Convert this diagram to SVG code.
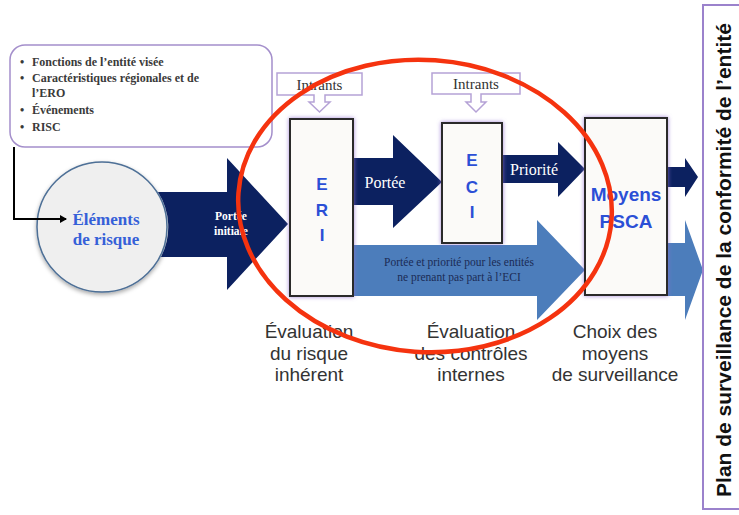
<svg xmlns="http://www.w3.org/2000/svg" width="739" height="515" viewBox="0 0 739 515">
<defs>
<filter id="glow" x="-20%" y="-20%" width="140%" height="140%">
<feDropShadow dx="0" dy="0" stdDeviation="2" flood-color="#8e6cd0" flood-opacity="0.8"/>
</filter>
<filter id="shadow" x="-20%" y="-20%" width="140%" height="140%">
<feDropShadow dx="0" dy="2" stdDeviation="2" flood-color="#000" flood-opacity="0.35"/>
</filter>
<marker id="arr" markerWidth="8" markerHeight="8" refX="6" refY="4" orient="auto" markerUnits="userSpaceOnUse">
<path d="M0,0 L7,4 L0,8 Z" fill="#000"/>
</marker>
<style>
.navy{fill:#0c2160}
.lblue{fill:#4c7dbb}
.box{fill:#fbfaf8;stroke:#2a2a2a;stroke-width:2}
.callout{fill:#fff;stroke:#b5a2d6;stroke-width:1.5}
.serif{font-family:"Liberation Serif","DejaVu Serif",serif}
.sans{font-family:"Liberation Sans",Arial,sans-serif}
.bul{font-family:"Liberation Serif",serif;font-size:12px;font-weight:bold;fill:#3a3a3a}
.key{font-family:"Liberation Sans",Arial,sans-serif;font-weight:bold;fill:#2b4fd6;text-anchor:middle}
.lab{font-family:"Liberation Sans",Arial,sans-serif;font-size:19px;fill:#333;text-anchor:middle}
.intr{font-family:"Liberation Serif",serif;font-size:15px;fill:#333;text-anchor:middle}
</style>
</defs>
<rect width="739" height="515" fill="#fff"/>

<g id="info-box">
<rect x="10" y="45" width="262" height="102" rx="15" fill="#fff" stroke="#a48fcb" stroke-width="1.5"/>
<g class="bul">
<text x="20" y="66">•</text><text x="32" y="66">Fonctions de l’entité visée</text>
<text x="20" y="82">•</text><text x="32" y="82">Caractéristiques régionales et de</text>
<text x="32" y="97">l’ERO</text>
<text x="20" y="114">•</text><text x="32" y="114">Événements</text>
<text x="20" y="131">•</text><text x="32" y="131">RISC</text>
</g>
</g>

<g id="elements-risque">
<circle cx="102" cy="227" r="65" fill="#efefef" stroke="#4d6f96" stroke-width="1.5" filter="url(#shadow)"/>
<g class="serif" font-size="17" font-weight="bold" fill="#3560d8" text-anchor="middle">
<text x="106" y="225">Éléments</text>
<text x="106" y="245">de risque</text>
</g>
</g>

<g id="connectors">
<path d="M14,147 V219 H66" fill="none" stroke="#000" stroke-width="2" marker-end="url(#arr)"/>
<path class="navy" d="M158,192 H227 V158 L288,224 L227,290 V257 H161 A65,65 0 0 0 158,192 Z"/>
<path class="navy" d="M353,158 H393 V135 L442,182 L393,228 V205 H353 Z"/>
<path class="navy" d="M502,155 H558 V142 L585,169 L558,197 V183 H502 Z"/>
<path class="lblue" d="M345,245 H537 V220 L585,270 L537,320 V296 H345 Z"/>
<path class="navy" d="M667,167 H685 V158 L698,177 L685,197 V187 H667 Z"/>
<path class="lblue" d="M667,243 H685 V220 L703,270 L685,320 V296 H667 Z"/>
<g class="serif" font-weight="bold" fill="#fff" font-size="11.5" text-anchor="middle">
<text x="231" y="220">Portée</text>
<text x="231" y="235">initiale</text>
</g>
<text class="serif" x="385" y="188" font-size="16" fill="#fff" text-anchor="middle">Portée</text>
<text class="serif" x="534" y="175" font-size="16" fill="#fff" text-anchor="middle">Priorité</text>
<g class="serif" font-size="11.5" fill="#1b2b55" text-anchor="middle">
<text x="459" y="266">Portée et priorité pour les entités</text>
<text x="459" y="281">ne prenant pas part à l’ECI</text>
</g>
</g>

<g id="intrants-eri">
<path class="callout" d="M277,73 H362 V95 H325 V102 H330 L319.5,112 L309,102 H314 V95 H277 Z"/>
<text class="intr" x="319.5" y="90">Intrants</text>
</g>
<g id="intrants-eci">
<path class="callout" d="M432,73 H520 V94 H481 V102 H486 L476,112 L466,102 H471 V94 H432 Z"/>
<text class="intr" x="476" y="89">Intrants</text>
</g>

<g id="eri">
<rect class="box" x="290" y="119" width="63" height="177" filter="url(#glow)"/>
<text class="key" x="322" y="190" font-size="17">E</text>
<text class="key" x="322" y="216" font-size="17">R</text>
<text class="key" x="322" y="241" font-size="17">I</text>
</g>

<g id="eci">
<rect class="box" x="442" y="123" width="60" height="120" filter="url(#glow)"/>
<text class="key" x="472" y="166" font-size="17">E</text>
<text class="key" x="472" y="193" font-size="17">C</text>
<text class="key" x="472" y="218" font-size="17">I</text>
</g>

<g id="psca">
<rect class="box" x="585" y="118" width="82" height="177" filter="url(#glow)"/>
<text class="key" x="626" y="201" font-size="19">Moyens</text>
<text class="key" x="626" y="228" font-size="19">PSCA</text>
</g>

<g id="plan">
<rect x="703" y="5" width="50" height="504" fill="#fff" stroke="#9b82cc" stroke-width="2"/>
<text class="sans" transform="translate(731,260) rotate(-90)" font-size="21" font-weight="bold" fill="#111" text-anchor="middle">Plan de surveillance de la conformité de l’entité</text>
</g>

<g id="labels">
<text class="lab" x="309" y="338">Évaluation</text>
<text class="lab" x="309" y="360">du risque</text>
<text class="lab" x="309" y="381">inhérent</text>
<text class="lab" x="471" y="338">Évaluation</text>
<text class="lab" x="471" y="360">des contrôles</text>
<text class="lab" x="471" y="381">internes</text>
<text class="lab" x="615" y="338">Choix des</text>
<text class="lab" x="615" y="360">moyens</text>
<text class="lab" x="615" y="381">de surveillance</text>
</g>

<g id="highlight">
<ellipse cx="425" cy="206" rx="187" ry="146" transform="rotate(4 425 206)" fill="none" stroke="#f5330f" stroke-width="4.5"/>
</g>
</svg>
